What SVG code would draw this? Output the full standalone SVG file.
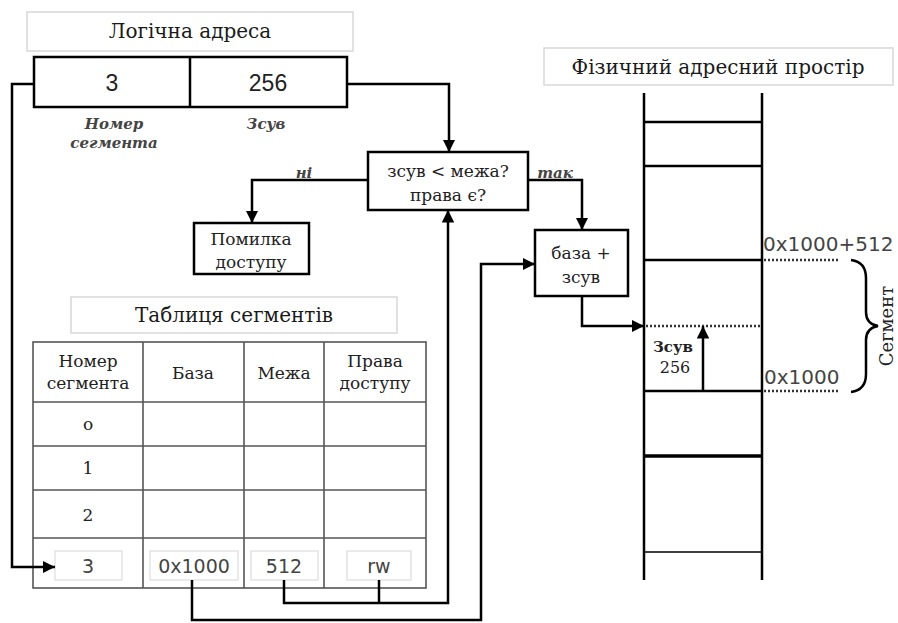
<svg xmlns="http://www.w3.org/2000/svg" width="898" height="623" viewBox="0 0 898 623">
<defs>
<marker id="ah" viewBox="0 0 10 10" refX="10" refY="5" markerWidth="5" markerHeight="5" orient="auto" markerUnits="strokeWidth">
<path d="M0,0 L10,5 L0,10 Z" fill="#000"/>
</marker>
<style>
.title{font-family:"DejaVu Serif","Liberation Serif",serif;font-size:20px;fill:#1a1a1a;text-anchor:middle}
.tbox{fill:#fff;stroke:#d8d8d8;stroke-width:1.5}
.box{fill:#fff;stroke:#000;stroke-width:2.5}
.ser{font-family:"DejaVu Serif","Liberation Serif",serif;font-size:17px;fill:#222;text-anchor:middle}
.th{font-family:"DejaVu Serif","Liberation Serif",serif;font-size:17px;fill:#222;text-anchor:middle}
.it{font-family:"DejaVu Serif","Liberation Serif",serif;font-size:15px;font-style:italic;font-weight:bold;fill:#444;text-anchor:middle}
.mono{font-family:"DejaVu Sans","Liberation Sans",sans-serif;font-size:19px;fill:#444;text-anchor:middle}
.addr{font-family:"DejaVu Sans","Liberation Sans",sans-serif;font-size:20px;fill:#444;text-anchor:start}
.sans{font-family:"Liberation Sans",Arial,sans-serif;font-size:23px;fill:#222;text-anchor:middle}
.grid{stroke:#555;stroke-width:1.6;fill:none}
.cell{fill:#fff;stroke:#ddd;stroke-width:1.2}
.ln{stroke:#000;stroke-width:2.5;fill:none}
.arr{stroke:#000;stroke-width:2.5;fill:none;marker-end:url(#ah)}
.dot{stroke:#333;stroke-width:2.5;stroke-dasharray:2 2;fill:none}
</style>
</defs>
<rect width="898" height="623" fill="#fff"/>

<g id="logical-title">
<rect class="tbox" x="27" y="12" width="326" height="39"/>
<text class="title" x="190" y="38">Логічна адреса</text>
</g>

<g id="logical-address">
<rect class="box" x="34" y="57" width="313" height="50"/>
<line class="ln" x1="190" y1="57" x2="190" y2="107"/>
<text class="sans" x="112" y="91">3</text>
<text class="sans" x="268" y="91">256</text>
<text class="it" x="114" y="129">Номер</text>
<text class="it" x="114" y="148">сегмента</text>
<text class="it" x="266" y="129">Зсув</text>
</g>

<g id="decision">
<rect class="box" x="368" y="152" width="160" height="58"/>
<text class="ser" x="448" y="177">зсув &lt; межа?</text>
<text class="ser" x="448" y="201">права є?</text>
</g>

<g id="error">
<rect class="box" x="194" y="223" width="115" height="51"/>
<text class="ser" x="251" y="245">Помилка</text>
<text class="ser" x="251" y="268">доступу</text>
</g>

<g id="sum">
<rect class="box" x="535" y="230" width="93" height="66"/>
<text class="ser" x="581" y="259">база +</text>
<text class="ser" x="581" y="283">зсув</text>
</g>

<g id="table-title">
<rect class="tbox" x="71" y="297" width="326" height="36"/>
<text class="title" x="234" y="322">Таблиця сегментів</text>
</g>

<g id="segment-table">
<rect class="grid" x="33" y="342" width="393" height="246"/>
<line class="grid" x1="143" y1="342" x2="143" y2="588"/>
<line class="grid" x1="244" y1="342" x2="244" y2="588"/>
<line class="grid" x1="324" y1="342" x2="324" y2="588"/>
<line class="grid" x1="33" y1="402" x2="426" y2="402"/>
<line class="grid" x1="33" y1="446" x2="426" y2="446"/>
<line class="grid" x1="33" y1="490" x2="426" y2="490"/>
<line class="grid" x1="33" y1="538" x2="426" y2="538"/>
<text class="th" x="88" y="367">Номер</text>
<text class="th" x="88" y="389">сегмента</text>
<text class="th" x="193" y="379">База</text>
<text class="th" x="284" y="379">Межа</text>
<text class="th" x="375" y="367">Права</text>
<text class="th" x="375" y="389">доступу</text>
<text class="th" x="88" y="430">o</text>
<text class="th" x="88" y="474">1</text>
<text class="th" x="88" y="521">2</text>
<rect class="cell" x="55" y="551" width="67" height="29"/>
<rect class="cell" x="150" y="551" width="88" height="29"/>
<rect class="cell" x="251" y="551" width="67" height="29"/>
<rect class="cell" x="347" y="551" width="64" height="29"/>
<text class="mono" x="88" y="573">3</text>
<text class="mono" x="194" y="573">0x1000</text>
<text class="mono" x="284" y="573">512</text>
<text class="mono" x="379" y="573">rw</text>
</g>

<g id="physical-title">
<rect class="tbox" x="544" y="48" width="349" height="37"/>
<text class="title" x="718" y="74">Фізичний  адресний простір</text>
</g>

<g id="physical-memory">
<line class="ln" x1="644" y1="93" x2="644" y2="580"/>
<line class="ln" x1="762" y1="93" x2="762" y2="580"/>
<line class="ln" x1="644" y1="122" x2="762" y2="122"/>
<line class="ln" x1="644" y1="166" x2="762" y2="166"/>
<line class="ln" x1="644" y1="260" x2="762" y2="260"/>
<line class="ln" x1="644" y1="391" x2="762" y2="391"/>
<line class="ln" x1="644" y1="456" x2="762" y2="456" style="stroke-width:3.5"/>
<line class="ln" x1="644" y1="552" x2="762" y2="552" style="stroke-width:1.6"/>
<line class="dot" x1="646" y1="326" x2="762" y2="326"/>
<line class="dot" x1="764" y1="260" x2="840" y2="260"/>
<line class="dot" x1="764" y1="391" x2="840" y2="391"/>
<text class="addr" x="763" y="251">0x1000+512</text>
<text class="addr" x="764" y="384">0x1000</text>
<path d="M851,260 Q866,262 866,278 L866,312 Q866,324 878,326 Q866,328 866,340 L866,374 Q866,390 851,392" fill="none" stroke="#000" stroke-width="2.5"/>
<text class="ser" x="0" y="6" transform="translate(887,326) rotate(-90)" style="font-size:18px">Сегмент</text>
<text class="ser" x="673" y="352" style="font-size:15px;font-weight:bold">Зсув</text>
<text class="ser" x="675" y="373" style="font-size:16px">256</text>
</g>

<g id="connectors">
<path class="arr" d="M34,84 L12,84 L12,567 L55,567"/>
<path class="arr" d="M347,84 L449,84 L449,152"/>
<path class="arr" d="M368,180 L252,180 L252,223"/>
<path class="arr" d="M528,180 L582,180 L582,230"/>
<path class="arr" d="M582,296 L582,326 L644,326"/>
<path class="arr" d="M703,391 L703,326"/>
<path class="arr" d="M284,580 L284,603 L448,603 L448,210"/>
<path class="ln" d="M379,580 L379,603"/>
<path class="arr" d="M192,580 L192,620 L481,620 L481,264 L535,264"/>
<text class="it" x="304" y="178">ні</text>
<text class="it" x="555" y="178">так</text>
</g>
</svg>
